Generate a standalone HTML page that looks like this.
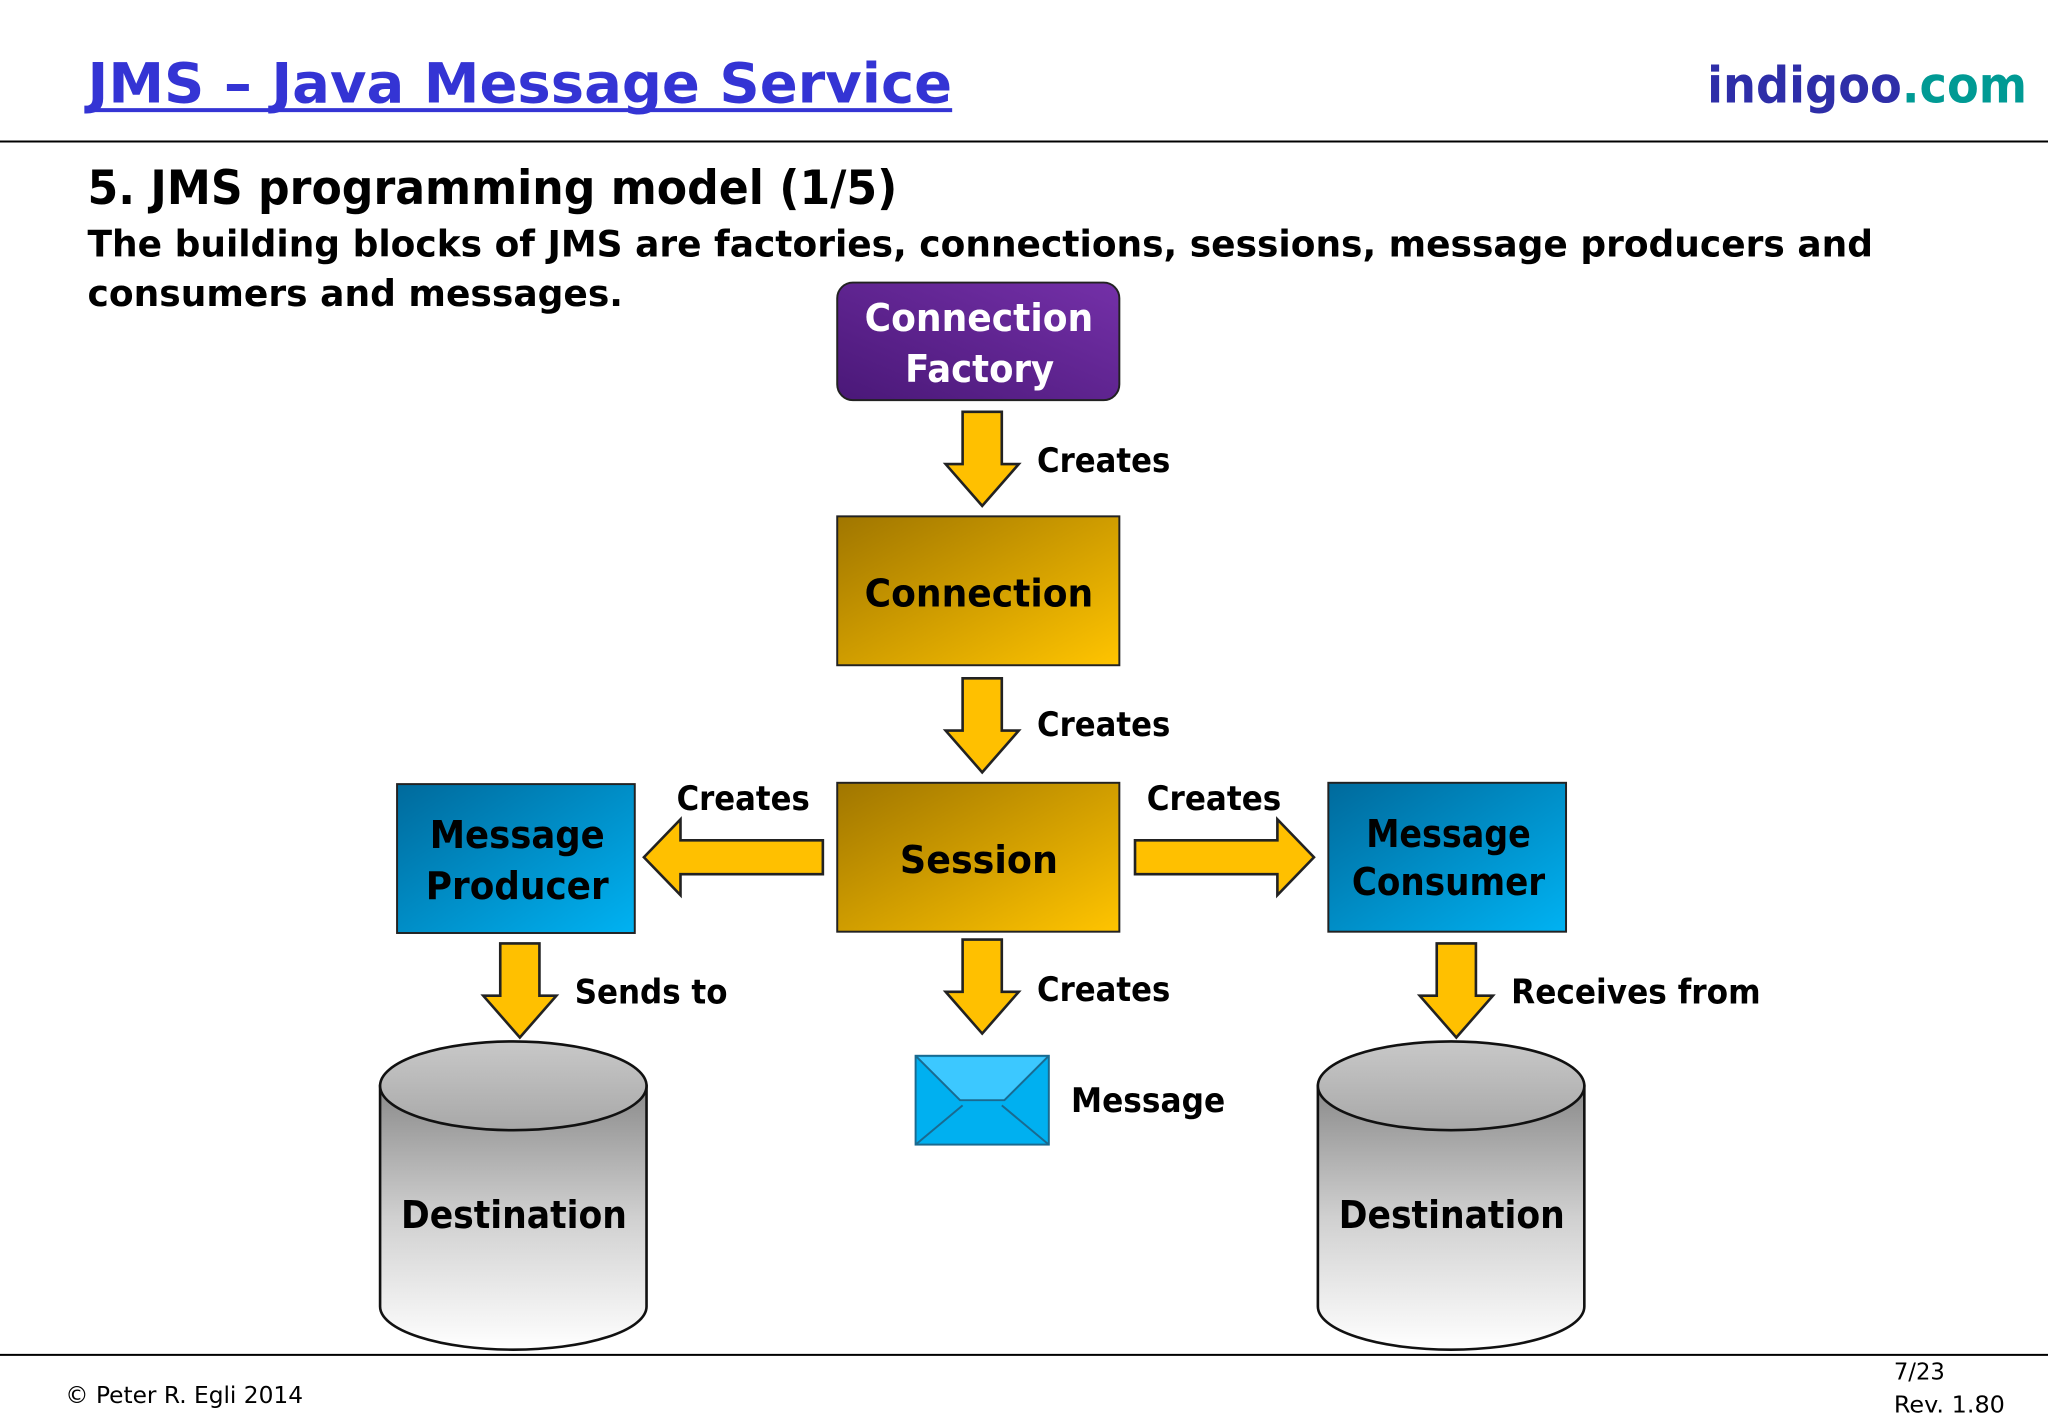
<!DOCTYPE html>
<html><head><meta charset="utf-8"><style>
html,body{margin:0;padding:0;background:#fff;}
svg{display:block;font-family:"DejaVu Sans","Liberation Sans",Arial,sans-serif;}
</style></head><body>
<svg width="2048" height="1418" viewBox="0 0 1568 1085" xmlns="http://www.w3.org/2000/svg">
<defs>
<linearGradient id="pur" x1="0" y1="1" x2="1" y2="0"><stop offset="0" stop-color="#4a1878"/><stop offset="1" stop-color="#7430a8"/></linearGradient>
<linearGradient id="gold" x1="0" y1="0" x2="1" y2="1"><stop offset="0" stop-color="#a07600"/><stop offset="1" stop-color="#ffc400"/></linearGradient>
<linearGradient id="blue" x1="0" y1="0" x2="1" y2="1"><stop offset="0" stop-color="#006a9c"/><stop offset="1" stop-color="#00b2f2"/></linearGradient>
<linearGradient id="cyl" x1="0" y1="0" x2="0" y2="1"><stop offset="0" stop-color="#8a8a8a"/><stop offset="0.5" stop-color="#d0d0d0"/><stop offset="1" stop-color="#ffffff"/></linearGradient>
<linearGradient id="cyltop" x1="0" y1="0" x2="0" y2="1"><stop offset="0" stop-color="#c8c8c8"/><stop offset="1" stop-color="#a8a8a8"/></linearGradient>
<g id="darr"><path d="M13 0 H43 V40 H56 L28 72 L0 40 H13 Z" fill="#ffc000" stroke="#222" stroke-width="2"/></g>
</defs>
<g lengthAdjust="spacingAndGlyphs">
<text x="67" y="78" font-size="42" font-weight="bold" fill="#3434d4" textLength="662" lengthAdjust="spacingAndGlyphs">JMS – Java Message Service</text>
<line x1="67" y1="84" x2="729" y2="84" stroke="#3434d4" stroke-width="3"/>
<text x="1307" y="78" font-size="38" font-weight="bold" textLength="245" lengthAdjust="spacingAndGlyphs"><tspan fill="#2e2ea8">indigoo</tspan><tspan fill="#009a94">.com</tspan></text>
<line x1="0" y1="108" x2="1568" y2="108" stroke="#000" stroke-width="1.5"/>
<text x="67" y="156" font-size="36" font-weight="bold" textLength="620" lengthAdjust="spacingAndGlyphs">5. JMS programming model (1/5)</text>
<text x="67" y="196" font-size="28" font-weight="bold" textLength="1367" lengthAdjust="spacingAndGlyphs">The building blocks of JMS are factories, connections, sessions, message producers and</text>
<text x="67" y="234" font-size="28" font-weight="bold" textLength="410" lengthAdjust="spacingAndGlyphs">consumers and messages.</text>

<rect x="641" y="216" width="216" height="90" rx="12" fill="url(#pur)" stroke="#222" stroke-width="1.5"/>
<text x="662" y="253" font-size="29" font-weight="bold" fill="#fff" textLength="175" lengthAdjust="spacingAndGlyphs">Connection</text>
<text x="693" y="292" font-size="29" font-weight="bold" fill="#fff" textLength="114" lengthAdjust="spacingAndGlyphs">Factory</text>

<use href="#darr" x="724" y="315"/>
<text x="794" y="361" font-size="26" font-weight="bold" textLength="102" lengthAdjust="spacingAndGlyphs">Creates</text>

<rect x="641" y="395" width="216" height="114" fill="url(#gold)" stroke="#222" stroke-width="1.5"/>
<text x="662" y="464" font-size="29" font-weight="bold" textLength="175" lengthAdjust="spacingAndGlyphs">Connection</text>

<use href="#darr" x="724" y="519"/>
<text x="794" y="563" font-size="26" font-weight="bold" textLength="102" lengthAdjust="spacingAndGlyphs">Creates</text>

<rect x="641" y="599" width="216" height="114" fill="url(#gold)" stroke="#222" stroke-width="1.5"/>
<text x="689" y="668" font-size="29" font-weight="bold" textLength="121" lengthAdjust="spacingAndGlyphs">Session</text>

<path d="M630 643 V669 H521 V685 L493 656 L521 627 V643 Z" fill="#ffc000" stroke="#222" stroke-width="2"/>
<text x="518" y="620" font-size="26" font-weight="bold" textLength="102" lengthAdjust="spacingAndGlyphs">Creates</text>
<path d="M869 643 V669 H978 V685 L1006 656 L978 627 V643 Z" fill="#ffc000" stroke="#222" stroke-width="2"/>
<text x="878" y="620" font-size="26" font-weight="bold" textLength="103" lengthAdjust="spacingAndGlyphs">Creates</text>

<rect x="304" y="600" width="182" height="114" fill="url(#blue)" stroke="#222" stroke-width="1.5"/>
<text x="329" y="649" font-size="29" font-weight="bold" textLength="134" lengthAdjust="spacingAndGlyphs">Message</text>
<text x="326" y="688" font-size="29" font-weight="bold" textLength="140" lengthAdjust="spacingAndGlyphs">Producer</text>
<rect x="1017" y="599" width="182" height="114" fill="url(#blue)" stroke="#222" stroke-width="1.5"/>
<text x="1046" y="648" font-size="29" font-weight="bold" textLength="126" lengthAdjust="spacingAndGlyphs">Message</text>
<text x="1035" y="685" font-size="29" font-weight="bold" textLength="148" lengthAdjust="spacingAndGlyphs">Consumer</text>

<use href="#darr" x="370" y="722"/>
<text x="440" y="768" font-size="26" font-weight="bold" textLength="117" lengthAdjust="spacingAndGlyphs">Sends to</text>
<use href="#darr" x="724" y="719"/>
<text x="794" y="766" font-size="26" font-weight="bold" textLength="102" lengthAdjust="spacingAndGlyphs">Creates</text>
<use href="#darr" x="1087" y="722"/>
<text x="1157" y="768" font-size="26" font-weight="bold" textLength="191" lengthAdjust="spacingAndGlyphs">Receives from</text>

<rect x="701" y="808" width="102" height="68" fill="#00b0f0" stroke="#1a6a90" stroke-width="1.5"/>
<path d="M703 809 L736 842 H768 L801 809 Z" fill="#3cc8ff"/>
<path d="M701 808 L735 842 H769 L803 808 M701 876 L737 846 M803 876 L767 846" fill="none" stroke="#1a6a90" stroke-width="1.5"/>
<text x="820" y="851" font-size="26" font-weight="bold" textLength="118" lengthAdjust="spacingAndGlyphs">Message</text>

<path d="M291 831 V1000 A102 33 0 0 0 495 1000 V831 Z" fill="url(#cyl)" stroke="#111" stroke-width="2"/>
<ellipse cx="393" cy="831" rx="102" ry="34" fill="url(#cyltop)" stroke="#111" stroke-width="2"/>
<text x="307" y="940" font-size="29" font-weight="bold" textLength="173" lengthAdjust="spacingAndGlyphs">Destination</text>
<path d="M1009 831 V1000 A102 33 0 0 0 1213 1000 V831 Z" fill="url(#cyl)" stroke="#111" stroke-width="2"/>
<ellipse cx="1111" cy="831" rx="102" ry="34" fill="url(#cyltop)" stroke="#111" stroke-width="2"/>
<text x="1025" y="940" font-size="29" font-weight="bold" textLength="173" lengthAdjust="spacingAndGlyphs">Destination</text>

<line x1="0" y1="1037" x2="1568" y2="1037" stroke="#000" stroke-width="1.5"/>
<text x="50" y="1074" font-size="18" textLength="182" lengthAdjust="spacingAndGlyphs">© Peter R. Egli 2014</text>
<text x="1450" y="1056" font-size="18" textLength="39" lengthAdjust="spacingAndGlyphs">7/23</text>
<text x="1450" y="1081" font-size="18" textLength="85" lengthAdjust="spacingAndGlyphs">Rev. 1.80</text>
</g>
</svg>
</body></html>
